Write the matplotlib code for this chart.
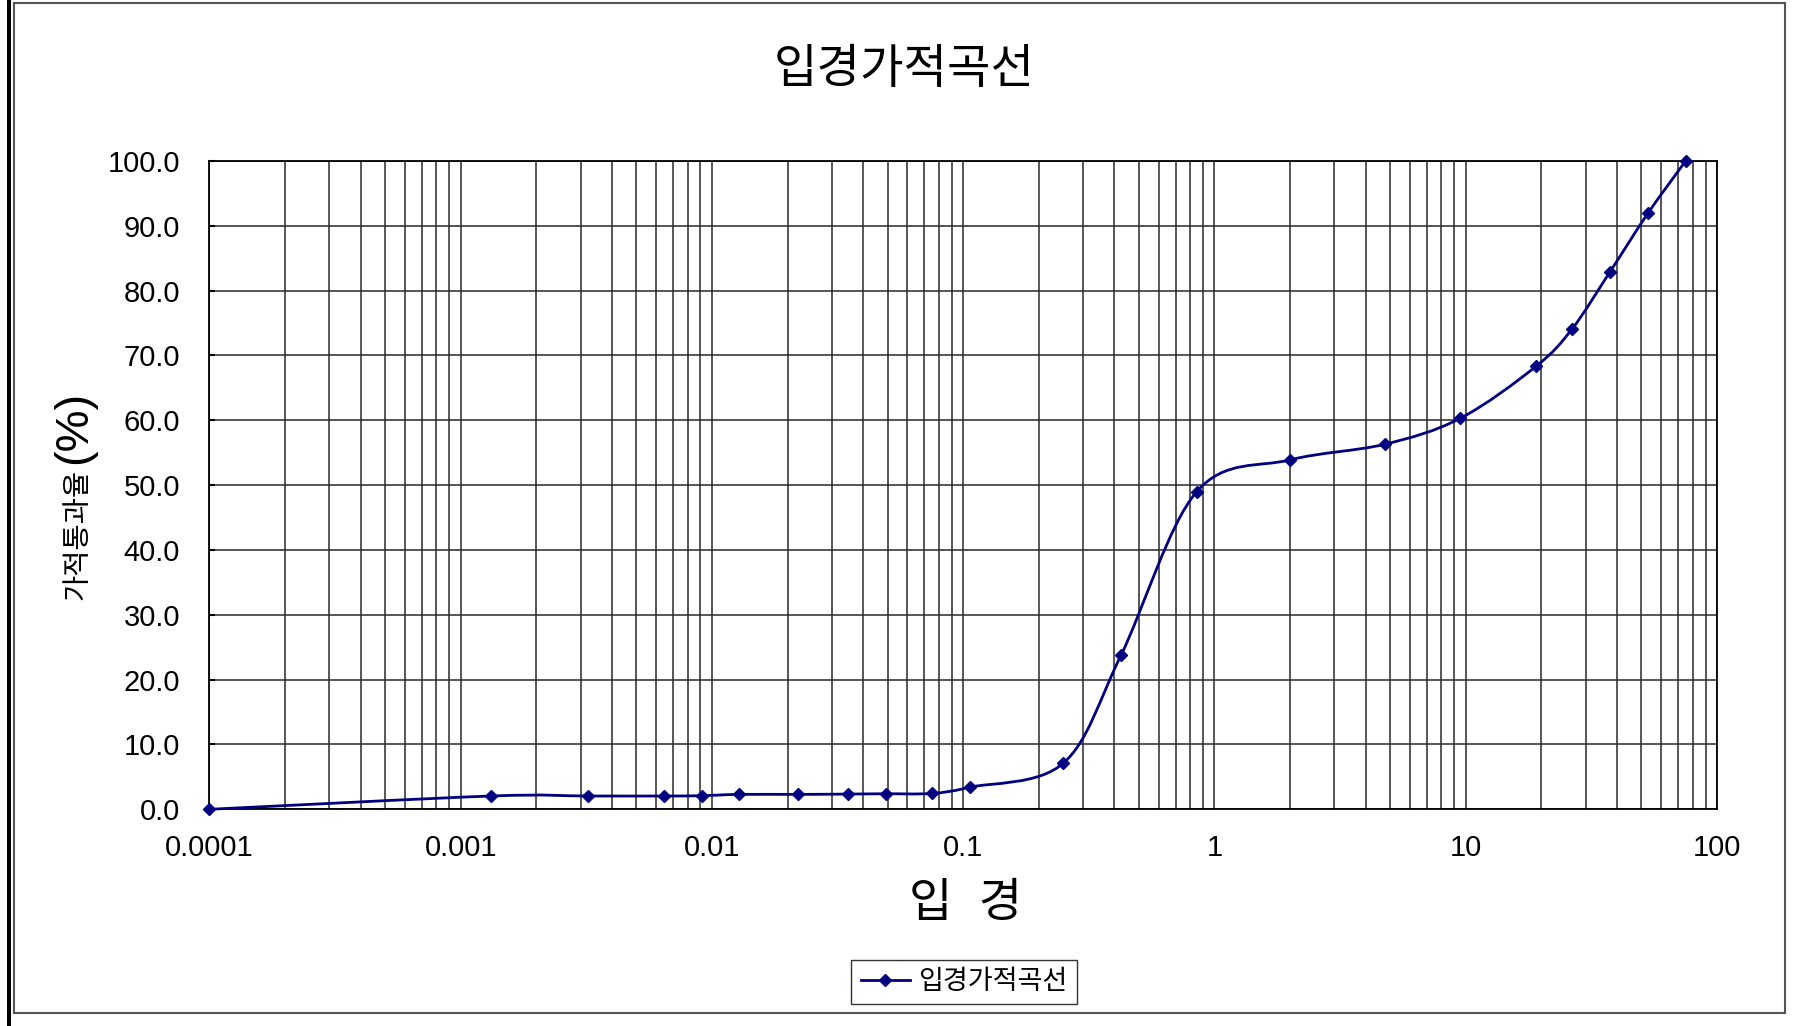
import numpy as np
import matplotlib
matplotlib.use("Agg")
import matplotlib.pyplot as plt
from matplotlib.path import Path
from matplotlib.patches import PathPatch, Rectangle
from matplotlib.lines import Line2D
from matplotlib.ticker import FixedLocator, LogLocator, NullFormatter

plt.rcParams['font.family'] = ['Liberation Sans', 'Noto Sans CJK KR', 'DejaVu Sans']

# particle size (mm) and cumulative passing (%)
size = [0.0001, 0.00132, 0.00321, 0.00645, 0.0091, 0.0128, 0.0221, 0.0349,
        0.0492, 0.075, 0.106, 0.25, 0.425, 0.85, 2.0, 4.75, 9.5, 19.0,
        26.5, 37.5, 53.0, 75.0]
passing = [0.0, 2.05, 2.05, 2.05, 2.1, 2.3, 2.3, 2.35, 2.4, 2.45, 3.4, 7.1,
           23.8, 49.0, 53.9, 56.3, 60.3, 68.3, 74.1, 82.9, 91.9, 100.0]
xticks = [0.0001, 0.001, 0.01, 0.1, 1, 10, 100]
xticklabels = ["0.0001", "0.001", "0.01", "0.1", "1", "10", "100"]
yticks = [0, 10, 20, 30, 40, 50, 60, 70, 80, 90, 100]

title = "입경가적곡선"
series_name = "입경가적곡선"
line_color = "#000080"

fig = plt.figure(figsize=(17.94, 10.26), dpi=100)
ax = fig.add_axes([0.1167, 0.2112, 0.8404, 0.6319])

ax.set_xscale('log')
ax.set_xlim(0.0001, 100)
ax.set_ylim(0, 100)

# smoothed line (excel style bezier through the points, in log-x space)
lx = np.log10(size)
py = np.array(passing)
pts = np.column_stack([lx, py])
n = len(pts)
verts = [pts[0]]
codes = [Path.MOVETO]
for i in range(n - 1):
    p0 = pts[i - 1] if i > 0 else pts[i]
    p1 = pts[i]
    p2 = pts[i + 1]
    p3 = pts[i + 2] if i + 2 < n else pts[i + 1]
    c1 = p1 + (p2 - p0) / 6.0
    c2 = p2 - (p3 - p1) / 6.0
    verts += [c1, c2, p2]
    codes += [Path.CURVE4] * 3
verts = np.array(verts)
verts[:, 0] = 10 ** verts[:, 0]
curve = PathPatch(Path(verts, codes), fill=False, edgecolor=line_color, lw=2.0,
                  transform=ax.transData, zorder=3, clip_on=False)
ax.add_patch(curve)
ax.plot(size, passing, linestyle='none', marker='D', markersize=6.5,
        color=line_color, zorder=4, clip_on=False)

ax.xaxis.set_major_locator(FixedLocator(xticks))
ax.set_xticklabels(xticklabels)
ax.xaxis.set_minor_locator(LogLocator(base=10, subs=np.arange(2, 10)))
ax.xaxis.set_minor_formatter(NullFormatter())
ax.set_yticks(yticks)
ax.set_yticklabels(["%.1f" % v for v in yticks])

ax.grid(True, which='both', axis='x', color='#282828', lw=1.1)
ax.grid(True, which='major', axis='y', color='#282828', lw=1.1)
ax.set_axisbelow(True)
for s in ax.spines.values():
    s.set_color('black')
    s.set_linewidth(1.3)

ax.tick_params(axis='x', which='both', length=0, pad=18, labelsize=21)
ax.tick_params(axis='y', which='major', direction='in', length=4, width=1.5,
               pad=21, labelsize=21)

fig.text(904 / 1794, 1 - 71 / 1026, title, fontsize=34, ha='center', va='center')
fig.text(966 / 1794, 1 - 905 / 1026, "입  경", fontsize=34, ha='center', va='center')
fig.text(78 / 1794, 1 - 534 / 1026, "가적통과율", fontsize=20.5, rotation=90,
         ha='center', va='center')
fig.text(74 / 1794, 1 - 427 / 1026, "(%)", fontsize=34, rotation=90,
         ha='center', va='center')

handle = Line2D([], [], color=line_color, lw=2.0, marker='D', markersize=6.5)
leg = fig.legend([handle], [series_name], loc='center',
                 bbox_to_anchor=(964 / 1794, 1 - 982 / 1026), fontsize=19.5,
                 frameon=True, fancybox=False, handlelength=1.8,
                 borderpad=0.35, handletextpad=0.3)
leg.get_frame().set_edgecolor('black')
leg.get_frame().set_linewidth(1.0)

# chart area border and left bar
fig.patches.append(Rectangle((14 / 1794, 1 - 1013 / 1026), (1785 - 14) / 1794,
                             (1013 - 3) / 1026, fill=False, edgecolor='#555555',
                             lw=1.5, transform=fig.transFigure))
fig.patches.append(Rectangle((7 / 1794, 0), 4 / 1794, 1, facecolor='black',
                             edgecolor='none', transform=fig.transFigure))

fig.savefig("out.png", dpi=100)
